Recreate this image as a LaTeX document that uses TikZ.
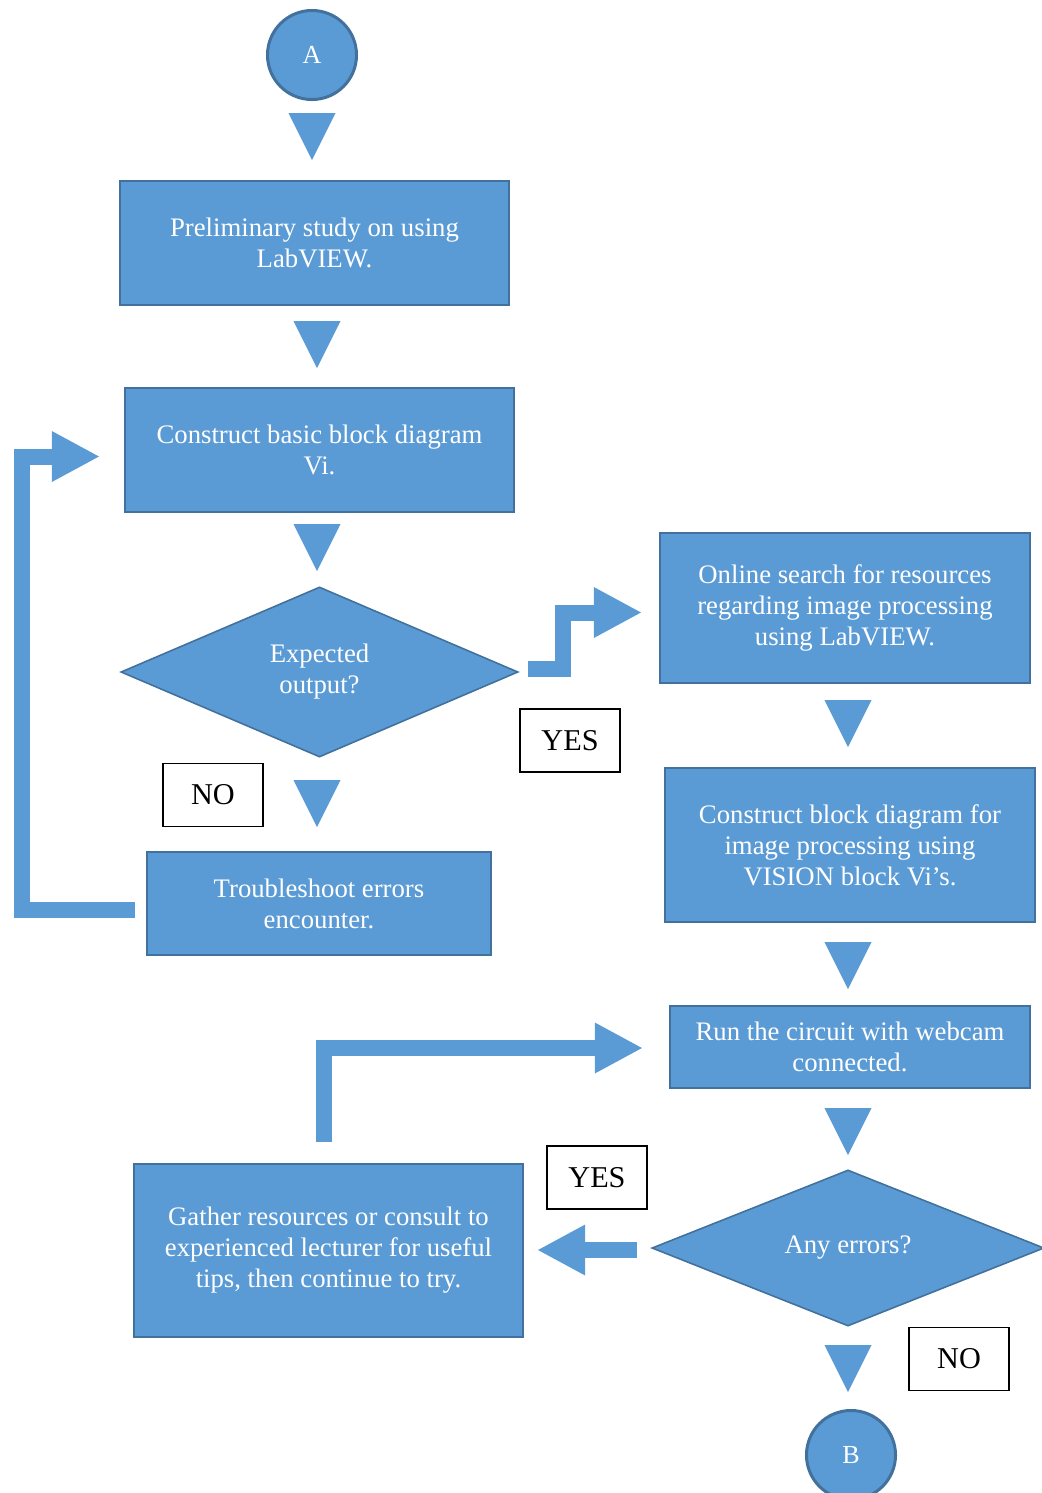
\documentclass[tikz,border=0pt]{standalone}
\usepackage{fontspec}
\setmainfont{Liberation Serif}
\usetikzlibrary{shapes.geometric, positioning, arrows.meta}
\definecolor{flowblue}{HTML}{5B9BD5}
\definecolor{flowedge}{HTML}{41719C}
\tikzset{
	stepbox/.style={
			rectangle,
			draw=flowedge,
			fill=flowblue,
			line width=0.6pt,
			text=white,
			align=center,
			inner sep=0pt,
			font=\fontsize{7.6}{8.8}\selectfont
		},
	decision/.style={
			diamond,
			draw=flowedge,
			fill=flowblue,
			line width=0.45pt,
			text=white,
			align=center,
			inner sep=0pt,
			font=\fontsize{7.6}{8.8}\selectfont
		},
	terminal/.style={
			circle,
			draw=flowedge,
			fill=flowblue,
			line width=0.85pt,
			text=white,
			minimum size=0.89cm,
			inner sep=0pt,
			font=\fontsize{7.4}{9}\selectfont
		},
	answer/.style={
			rectangle,
			draw=black,
			fill=white,
			line width=0.4pt,
			minimum width=1cm,
			minimum height=0.63cm,
			inner sep=0pt,
			font=\fontsize{8.6}{10}\selectfont
		},
	blockflow/.style={
			draw=flowblue,
			line width=0.16cm,
			-{Triangle[length=0.48cm, width=0.47cm]}
		},
	downtri/.pic={
			\fill[flowblue] (-23.5,0) -- (23.5,0) -- (0,47) -- cycle;
		}
}

\begin{document}
\begin{tikzpicture}[x=0.01cm, y=-0.01cm]
\useasboundingbox (0,0) rectangle (1041,1493);
    % left column
    \node[terminal] (a) at (312,55) {A};
    \node[stepbox, minimum width=3.89cm, minimum height=1.24cm] (prelim) at (314.5,243) {Preliminary study on using\\LabVIEW.};
    \node[stepbox, minimum width=3.89cm, minimum height=1.24cm] (basic) at (319.5,450) {Construct basic block diagram\\Vi.};
    \node[decision, minimum width=3.97cm, minimum height=1.70cm] (expected) at (319.5,672) {Expected\\output?};
    \node[answer] (no1) at (213,795) {NO};
    \node[stepbox, minimum width=3.44cm, minimum height=1.03cm] (trouble) at (319,903.5) {Troubleshoot errors\\encounter.};
    \node[answer] (yes1) at (570,740.5) {YES};

    % right column
    \node[stepbox, minimum width=3.70cm, minimum height=1.50cm] (online) at (845,608) {Online search for resources\\regarding image processing\\using LabVIEW.};
    \node[stepbox, minimum width=3.70cm, minimum height=1.54cm] (vision) at (850,845) {Construct block diagram for\\image processing using\\VISION block Vi's.};
    \node[stepbox, minimum width=3.60cm, minimum height=0.82cm] (run) at (850,1047) {Run the circuit with webcam\\connected.};
    \node[decision, minimum width=3.92cm, minimum height=1.56cm] (errors) at (848,1248) {Any errors?};
    \node[answer] (yes2) at (597,1177.5) {YES};
    \node[stepbox, minimum width=3.89cm, minimum height=1.73cm] (gather) at (328.5,1250.5) {Gather resources or consult to\\experienced lecturer for useful\\tips, then continue to try.};
    \node[answer] (no2) at (959,1359) {NO};
    \node[terminal] (b) at (851,1455) {B};

    % down arrows between steps
    \pic at (312,113) {downtri};
    \pic at (317,321) {downtri};
    \pic at (317,524) {downtri};
    \pic at (317,780) {downtri};
    \pic at (848,700) {downtri};
    \pic at (848,942) {downtri};
    \pic at (848,1108) {downtri};
    \pic at (848,1345) {downtri};

    % bent arrows
    \coordinate (loopstart) at (135,909.5);
    \coordinate (loopend) at (100,456.5);
    \draw[blockflow] (loopstart) -| (22,456.5) -- (loopend);

    \coordinate (yesstart) at (528,669);
    \coordinate (yesend) at (642,612.5);
    \draw[blockflow] (yesstart) -| (563,612.5) -- (yesend);

    \coordinate (retrystart) at (324,1142);
    \coordinate (retryend) at (643,1048);
    \draw[blockflow] (retrystart) |- (retryend);

    \coordinate (errstart) at (637,1250);
    \coordinate (errend) at (537,1250);
    \draw[blockflow] (errstart) -- (errend);
\end{tikzpicture}
\end{document}
